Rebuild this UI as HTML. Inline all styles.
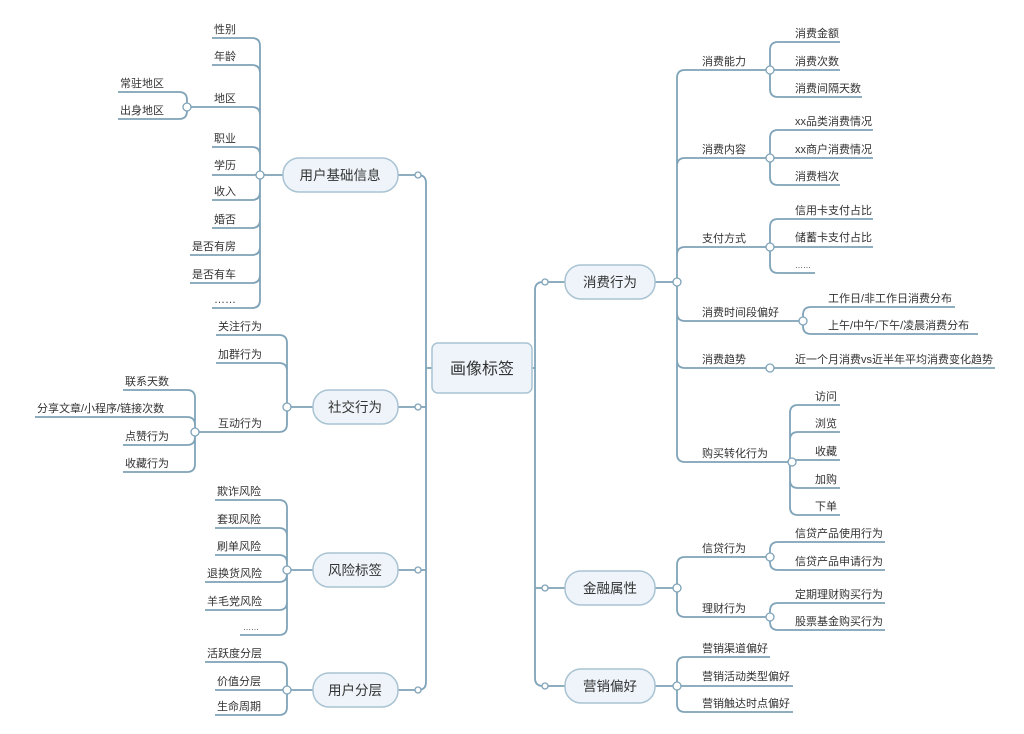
<!DOCTYPE html>
<html><head><meta charset="utf-8"><style>
html,body{margin:0;padding:0;background:#fff;width:1024px;height:734px;overflow:hidden}
svg{display:block}
text{font-family:"Liberation Sans","Noto Sans CJK SC",sans-serif;fill:#333;font-size:11px}
.l{fill:none;stroke:#7fa3b8;stroke-width:1.8}
.c{fill:#fff;stroke:#7fa3b8;stroke-width:1.3}
.b{fill:#eef4f9;stroke:#a9c3d3;stroke-width:1.5}
.t1{font-size:13.5px;text-anchor:middle}
</style></head><body>
<svg width="1024" height="734" viewBox="0 0 1024 734">
<!-- trunks -->
<path class="l" d="M398 175 H418 Q426 175 426 183 V682 Q426 690 418 690 H398 M398 407 H426 M398 570 H426 M426 368 H432"/>
<path class="l" d="M565 282 H543 Q535 282 535 290 V678 Q535 686 543 686 H565 M535 588 H565 M532 368 H535"/>

<!-- 用户基础信息 -->
<path class="l" d="M260 175 H283
M260 175 V46 Q260 38 252 38 H212
M260 175 V73 Q260 65 252 65 H212
M260 175 V115 Q260 107 252 107 H188
M260 175 V155 Q260 147 252 147 H212
M260 175 H212
M260 175 V192 Q260 200 252 200 H212
M260 175 V220 Q260 228 252 228 H212
M260 175 V247 Q260 255 252 255 H190
M260 175 V275 Q260 283 252 283 H190
M260 175 V300 Q260 308 252 308 H212
M187 107 V100 Q187 92 179 92 H118
M187 107 V111 Q187 119 179 119 H118"/>
<text x="214" y="33">性别</text><text x="214" y="60">年龄</text><text x="214" y="102">地区</text>
<text x="214" y="142">职业</text><text x="214" y="169">学历</text><text x="214" y="195">收入</text>
<text x="214" y="223">婚否</text><text x="192" y="250">是否有房</text><text x="192" y="278">是否有车</text>
<text x="214" y="303">……</text>
<text x="120" y="87">常驻地区</text><text x="120" y="114">出身地区</text>

<!-- 社交行为 -->
<path class="l" d="M287 407 H313
M287 407 V343 Q287 335 279 335 H216
M287 407 V371 Q287 363 279 363 H216
M287 407 V424 Q287 432 279 432 H196
M195 432 V398 Q195 390 187 390 H123
M195 432 V425 Q195 417 187 417 H35
M195 432 V437 Q195 445 187 445 H123
M195 432 V464 Q195 472 187 472 H123"/>
<text x="218" y="330">关注行为</text><text x="218" y="358">加群行为</text><text x="218" y="427">互动行为</text>
<text x="125" y="385">联系天数</text><text x="37" y="412">分享文章/小程序/链接次数</text>
<text x="125" y="440">点赞行为</text><text x="125" y="467">收藏行为</text>

<!-- 风险标签 -->
<path class="l" d="M287 570 H313
M287 570 V508 Q287 500 279 500 H215
M287 570 V536 Q287 528 279 528 H215
M287 570 V563 Q287 555 279 555 H215
M287 570 V574 Q287 582 279 582 H205
M287 570 V602 Q287 610 279 610 H205
M287 570 V627 Q287 635 279 635 H240"/>
<text x="217" y="495">欺诈风险</text><text x="217" y="523">套现风险</text><text x="217" y="550">刷单风险</text>
<text x="207" y="577">退换货风险</text><text x="207" y="605">羊毛党风险</text><text x="243" y="630" style="font-size:8px">……</text>

<!-- 用户分层 -->
<path class="l" d="M287 690 H313
M287 690 V670 Q287 662 279 662 H205
M287 690 H215
M287 690 V707 Q287 715 279 715 H215"/>
<text x="207" y="657">活跃度分层</text><text x="217" y="685">价值分层</text><text x="217" y="710">生命周期</text>

<!-- 消费行为 -->
<path class="l" d="M655 282 H677
M677 282 V78 Q677 70 685 70 H770
M677 282 V166 Q677 158 685 158 H770
M677 282 V255 Q677 247 685 247 H770
M677 282 V313 Q677 321 685 321 H803
M677 282 V360 Q677 368 685 368 H995
M677 282 V454 Q677 462 685 462 H790
M770 70 V50 Q770 42 778 42 H840
M770 70 H840
M770 70 V89 Q770 97 778 97 H862
M770 158 V138 Q770 130 778 130 H873
M770 158 H873
M770 158 V177 Q770 185 778 185 H840
M770 247 V227 Q770 219 778 219 H873
M770 247 H873
M770 247 V265 Q770 273 778 273 H815
M803 321 V315 Q803 307 811 307 H955
M803 321 V326 Q803 334 811 334 H978
M790 462 V413 Q790 405 798 405 H840
M790 462 V440 Q790 432 798 432 H840
M790 462 V460 H840
M790 462 V480 Q790 488 798 488 H840
M790 462 V507 Q790 515 798 515 H840"/>
<text x="702" y="65">消费能力</text><text x="702" y="153">消费内容</text><text x="702" y="242">支付方式</text>
<text x="702" y="316">消费时间段偏好</text><text x="702" y="363">消费趋势</text><text x="702" y="457">购买转化行为</text>
<text x="795" y="37">消费金额</text><text x="795" y="65">消费次数</text><text x="795" y="92">消费间隔天数</text>
<text x="795" y="125">xx品类消费情况</text><text x="795" y="153">xx商户消费情况</text><text x="795" y="180">消费档次</text>
<text x="795" y="214">信用卡支付占比</text><text x="795" y="241">储蓄卡支付占比</text><text x="795" y="268" style="font-size:8px">……</text>
<text x="828" y="302">工作日/非工作日消费分布</text><text x="828" y="329">上午/中午/下午/凌晨消费分布</text>
<text x="795" y="363">近一个月消费vs近半年平均消费变化趋势</text>
<text x="815" y="400">访问</text><text x="815" y="427">浏览</text><text x="815" y="455">收藏</text>
<text x="815" y="483">加购</text><text x="815" y="510">下单</text>

<!-- 金融属性 -->
<path class="l" d="M655 588 H677
M677 588 V565 Q677 557 685 557 H770
M677 588 V609 Q677 617 685 617 H770
M770 557 V550 Q770 542 778 542 H885
M770 557 V562 Q770 570 778 570 H885
M770 617 V611 Q770 603 778 603 H885
M770 617 V622 Q770 630 778 630 H885"/>
<text x="702" y="552">信贷行为</text><text x="702" y="612">理财行为</text>
<text x="795" y="537">信贷产品使用行为</text><text x="795" y="565">信贷产品申请行为</text>
<text x="795" y="598">定期理财购买行为</text><text x="795" y="625">股票基金购买行为</text>

<!-- 营销偏好 -->
<path class="l" d="M655 686 H677
M677 686 V665 Q677 657 685 657 H770
M677 686 H793
M677 686 V704 Q677 712 685 712 H793"/>
<text x="702" y="652">营销渠道偏好</text><text x="702" y="680">营销活动类型偏好</text><text x="702" y="707">营销触达时点偏好</text>

<!-- circles -->
<g>
<circle class="c" cx="260" cy="175" r="4"/><circle class="c" cx="187" cy="107" r="4"/>
<circle class="c" cx="418" cy="175" r="3"/><circle class="c" cx="418" cy="407" r="3"/>
<circle class="c" cx="418" cy="570" r="3"/><circle class="c" cx="418" cy="690" r="3"/>
<circle class="c" cx="287" cy="407" r="4"/><circle class="c" cx="195" cy="432" r="4"/>
<circle class="c" cx="287" cy="570" r="4"/><circle class="c" cx="287" cy="690" r="4"/>
<circle class="c" cx="545" cy="282" r="3"/><circle class="c" cx="545" cy="588" r="3"/><circle class="c" cx="545" cy="686" r="3"/>
<circle class="c" cx="677" cy="282" r="4"/><circle class="c" cx="770" cy="70" r="4"/>
<circle class="c" cx="770" cy="158" r="4"/><circle class="c" cx="770" cy="247" r="4"/>
<circle class="c" cx="803" cy="321" r="4"/><circle class="c" cx="770" cy="368" r="4"/>
<circle class="c" cx="792" cy="462" r="4"/><circle class="c" cx="677" cy="588" r="4"/>
<circle class="c" cx="770" cy="557" r="4"/><circle class="c" cx="770" cy="617" r="4"/>
<circle class="c" cx="677" cy="686" r="4"/>
</g>

<!-- boxes -->
<rect class="b" x="283" y="158" width="115" height="34" rx="16"/><text class="t1" x="340" y="180">用户基础信息</text>
<rect class="b" x="313" y="390" width="85" height="34" rx="16"/><text class="t1" x="355" y="412">社交行为</text>
<rect class="b" x="313" y="553" width="85" height="34" rx="16"/><text class="t1" x="355" y="575">风险标签</text>
<rect class="b" x="313" y="673" width="85" height="34" rx="16"/><text class="t1" x="355" y="695">用户分层</text>
<rect class="b" x="565" y="265" width="90" height="34" rx="16"/><text class="t1" x="610" y="287">消费行为</text>
<rect class="b" x="565" y="571" width="90" height="34" rx="16"/><text class="t1" x="610" y="593">金融属性</text>
<rect class="b" x="565" y="669" width="90" height="34" rx="16"/><text class="t1" x="610" y="691">营销偏好</text>
<rect class="b" x="432" y="343" width="100" height="50" rx="6"/><text class="t1" x="482" y="374" style="font-size:16px">画像标签</text>
</svg>
</body></html>
